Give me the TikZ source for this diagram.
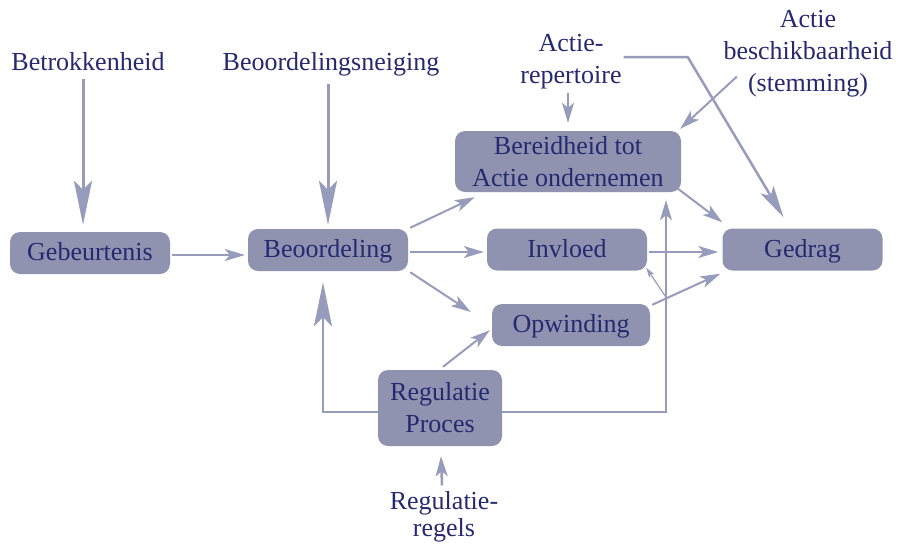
\documentclass[tikz,border=0pt]{standalone}
\usepackage{fontspec}
\setmainfont{Liberation Serif}
\usetikzlibrary{arrows.meta,calc}
\definecolor{txt}{RGB}{38,40,112}
\definecolor{boxf}{RGB}{144,147,176}
\definecolor{arr}{RGB}{152,156,188}
\begin{document}
\begin{tikzpicture}[x=1pt,y=-1pt,
 every node/.style={font=\fontsize{26}{32}\selectfont, text=txt, inner sep=0pt},
 box/.style={fill=boxf, rounded corners=10pt, minimum height=42pt},
 one/.style={text height=17pt, text depth=2pt},
 lbl/.style={align=center},
 bigarr/.style={draw=arr, line width=3pt, -{Stealth[length=44pt,width=18pt,inset=9pt]}},
 midarr/.style={draw=arr, line width=2.5pt, -{Stealth[length=32pt,width=15pt,inset=7pt]}},
 medarr/.style={draw=arr, line width=2pt, -{Stealth[length=20pt,width=12pt,inset=5pt]}},
 thinarr/.style={draw=arr, line width=1.2pt, -{Stealth[length=10pt,width=6pt,inset=2.5pt]}},
]
\useasboundingbox (0,0) rectangle (898,544);

% boxes
\node[box, one, minimum width=160pt] (geb) at (90,253) {Gebeurtenis};
\node[box, one, minimum width=160pt] (beo) at (328,250) {Beoordeling};
\node[box, minimum width=226pt, minimum height=61pt, align=center] (ber) at (568,161.5) {Bereidheid tot\\Actie ondernemen};
\node[box, one, minimum width=160pt] (inv) at (567,249.5) {Invloed};
\node[box, one, minimum width=160pt] (ged) at (802.5,249.5) {Gedrag};
\node[box, one, minimum width=158pt] (opw) at (571,325) {Opwinding};
\node[box, minimum width=124pt, minimum height=76pt, align=center] (reg) at (440,408) {Regulatie\\Proces};

% labels
\node[anchor=base] (betr) at (88,70) {Betrokkenheid};
\node[anchor=base] (bneig) at (331,70) {Beoordelingsneiging};
\node[lbl] (arep) at (571,62) {Actie-\\repertoire};
\node[lbl] (abes) at (808,54) {Actie\\beschikbaarheid\\(stemming)};
\node[lbl, font=\fontsize{26}{27}\selectfont] (rreg) at (444,517) {Regulatie-\\regels};

% connectors
\draw[bigarr] ($(betr.south)+(-5,9)$) -- ($(geb.north)+(-7,-7)$);
\draw[bigarr] ($(bneig.south)+(-3,8)$) -- ($(beo.north)+(0,-4)$);
\draw[medarr] ($(geb.east)+(2,2)$) -- ($(beo.west)+(-3,5)$);
\draw[medarr] ($(beo.north east)+(2,-1)$) -- ($(ber.south west)+(20,5)$);
\draw[medarr] ($(beo.east)+(2,2)$) -- ($(inv.west)+(-3,2.5)$);
\draw[medarr] ($(beo.south east)+(2,1)$) -- ($(opw.west)+(-21,-13)$);
\draw[medarr] ($(reg.north)+(3,-3)$) -- ($(opw.south west)+(-2,-16)$);
\draw[bigarr, line width=2.5pt] ($(reg.west)+(0,4)$) -| ($(beo.south)+(-5,11)$);
\draw[medarr] ($(reg.east)+(0,4)$) -| ($(ber.south)+(98,8)$);
\coordinate (vj) at ($(ber.south)+(98,105)$);
\draw[thinarr] (vj) -- ($(inv.south east)+(-1,-3)$);
\draw[medarr] ($(opw.north east)+(2,1)$) -- ($(ged.south west)+(-2,3)$);
\draw[medarr] ($(inv.east)+(2,2.5)$) -- ($(ged.west)+(-4,2.5)$);
\draw[medarr] ($(ber.south east)+(-4,-4)$) -- ($(ged.north west)+(0,-6)$);
\draw[medarr] ($(arep.south)+(-3,3)$) -- ($(ber.north)+(0,-8)$);
\draw[midarr] ($(arep.east)+(2,-5)$) -- ($(arep.east)+(66,-5)$) -- ($(ged.north)+(-19,-11)$);
\draw[medarr] ($(abes.south west)+(13.5,-21)$) -- ($(ber.north east)+(-1,-2)$);
\draw[medarr, line width=2.5pt] ($(rreg.north)+(-2,-6)$) -- ($(reg.south)+(1,10)$);
\end{tikzpicture}
\end{document}
